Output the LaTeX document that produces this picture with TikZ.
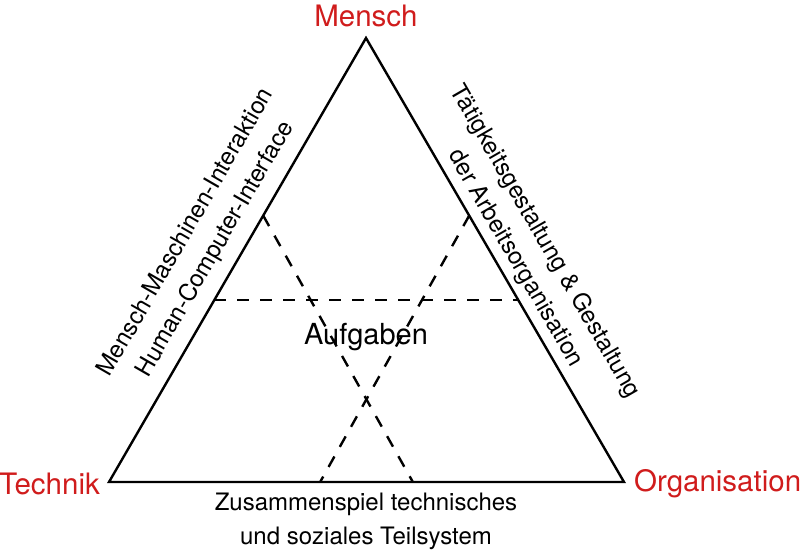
\documentclass[tikz,border=0pt]{standalone}
\usepackage{fontspec}
\setmainfont{TeX Gyre Heros}
\usepackage{tikz}
\usetikzlibrary{calc,positioning}
\definecolor{cornerred}{RGB}{208,28,28}

\begin{document}
\begin{tikzpicture}[
    x=1pt, y=-1pt,
    corner/.style={text=cornerred, font=\fontsize{29.5}{32}\selectfont, inner sep=0pt},
    txt/.style={align=center, font=\fontsize{24}{34}\selectfont, inner sep=0pt},
    edge/.style={line width=2.4pt, line join=miter},
    aux/.style={line width=2.4pt, dash pattern=on 12pt off 11pt},
]
\useasboundingbox (0,0) rectangle (800,550);

\coordinate (M) at (366,38);
\coordinate (T) at (109,482);
\coordinate (O) at (624,482);

\draw[edge] (M) -- (T) -- (O) -- cycle;

% points on the edges
\coordinate (mt1) at ($(M)!0.4!(T)$);
\coordinate (mo1) at ($(M)!0.4!(O)$);
\coordinate (mt2) at ($(M)!0.59!(T)$);
\coordinate (mo2) at ($(M)!0.59!(O)$);
\coordinate (to1) at ($(T)!0.41!(O)$);
\coordinate (to2) at ($(T)!0.59!(O)$);

\draw[aux] (mt2) -- (mo2);
\draw[aux] (mt1) -- (to2);
\draw[aux] (mo1) -- (to1);

\node[corner] (mensch) at (366,16) {Mensch};
\node[corner, anchor=east] (technik) at (100,484) {Technik};
\node[corner, anchor=west] (orga) at (634,484) {Organisation};

\node[txt, font=\fontsize{29}{34}\selectfont, anchor=base] (aufgaben) at (366,344) {Aufgaben};
\node[txt] (zus) at (366,521) {Zusammenspiel technisches\\und soziales Teilsystem};
\node[txt, rotate=60] (mmi) at (201,241) {Mensch-Maschinen-Interaktion\\Human-Computer-Interface};
\node[txt, rotate=-60] (taet) at (530,250) {Tätigkeitsgestaltung \& Gestaltung\\der Arbeitsorganisation};
\end{tikzpicture}
\end{document}
